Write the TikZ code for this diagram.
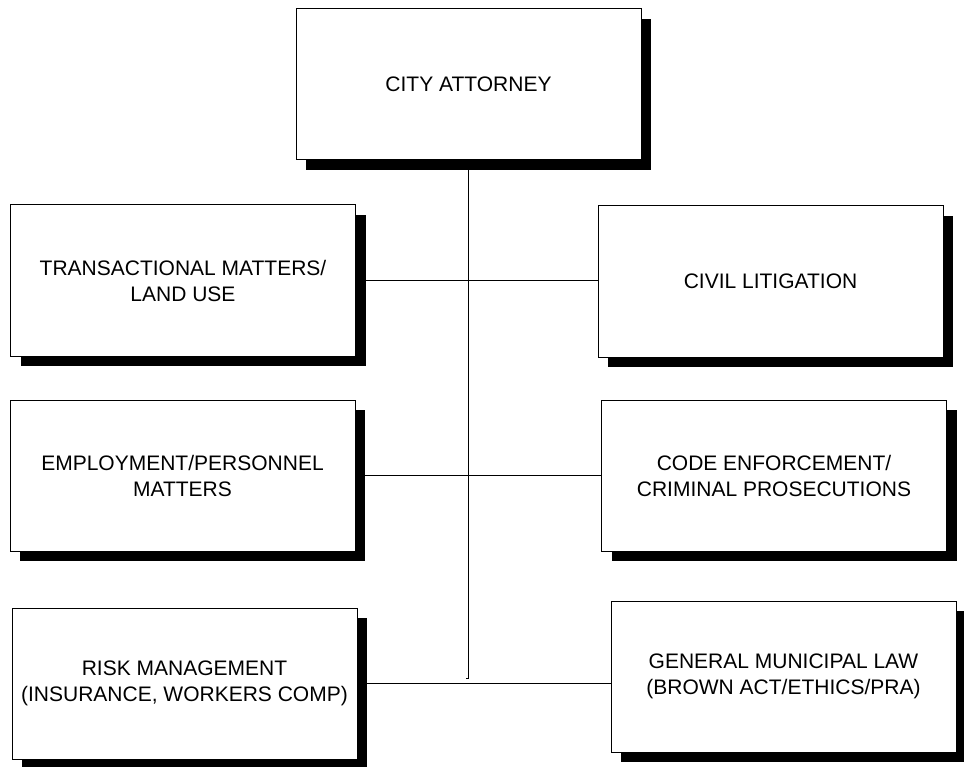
\documentclass[tikz,border=0pt]{standalone}
\usepackage{fontspec}
\setmainfont{Liberation Sans}
\usetikzlibrary{shadows}
\begin{document}
\begin{tikzpicture}[x=1pt,y=-1pt,
  unitbox/.style={rectangle, draw=black, line width=1pt, fill=white,
    minimum width=345pt, minimum height=151pt, inner sep=0pt,
    align=center, font=\fontsize{21}{26}\selectfont,
    drop shadow={shadow xshift=10pt, shadow yshift=-10pt, fill=black, opacity=1}},
  link/.style={draw=black, line width=1pt}]
  \useasboundingbox (0,0) rectangle (964,767);

  % head of the office
  \node[unitbox] (top) at (468.5,84.5) {CITY ATTORNEY};

  % divisions, left column
  \node[unitbox] (trans) at (183,280.5) {TRANSACTIONAL MATTERS/\\LAND USE};
  \node[unitbox] (empl) at (182.5,475.5) {EMPLOYMENT/PERSONNEL\\MATTERS};
  \node[unitbox] (risk) at (184.5,683.5) {RISK MANAGEMENT\\(INSURANCE, WORKERS COMP)};

  % divisions, right column
  \node[unitbox] (civil) at (770.5,281.5) {CIVIL LITIGATION};
  \node[unitbox] (code) at (774,475.5) {CODE ENFORCEMENT/\\CRIMINAL PROSECUTIONS};
  \node[unitbox] (gml) at (783.5,676.5) {GENERAL MUNICIPAL LAW\\(BROWN ACT/ETHICS/PRA)};

  % trunk line down from the City Attorney
  \coordinate (trunkend) at (468.5,678);
  \coordinate (hook) at (465.5,678);
  \draw[link] (top.south) -- (trunkend) -- (hook);

  % cross lines between the two columns
  \draw[link] (trans.east) -- (trans.east -| civil.west);
  \draw[link] (empl.east) -- (empl.east -| code.west);
  \draw[link] (risk.east) -- (risk.east -| gml.west);
\end{tikzpicture}
\end{document}
